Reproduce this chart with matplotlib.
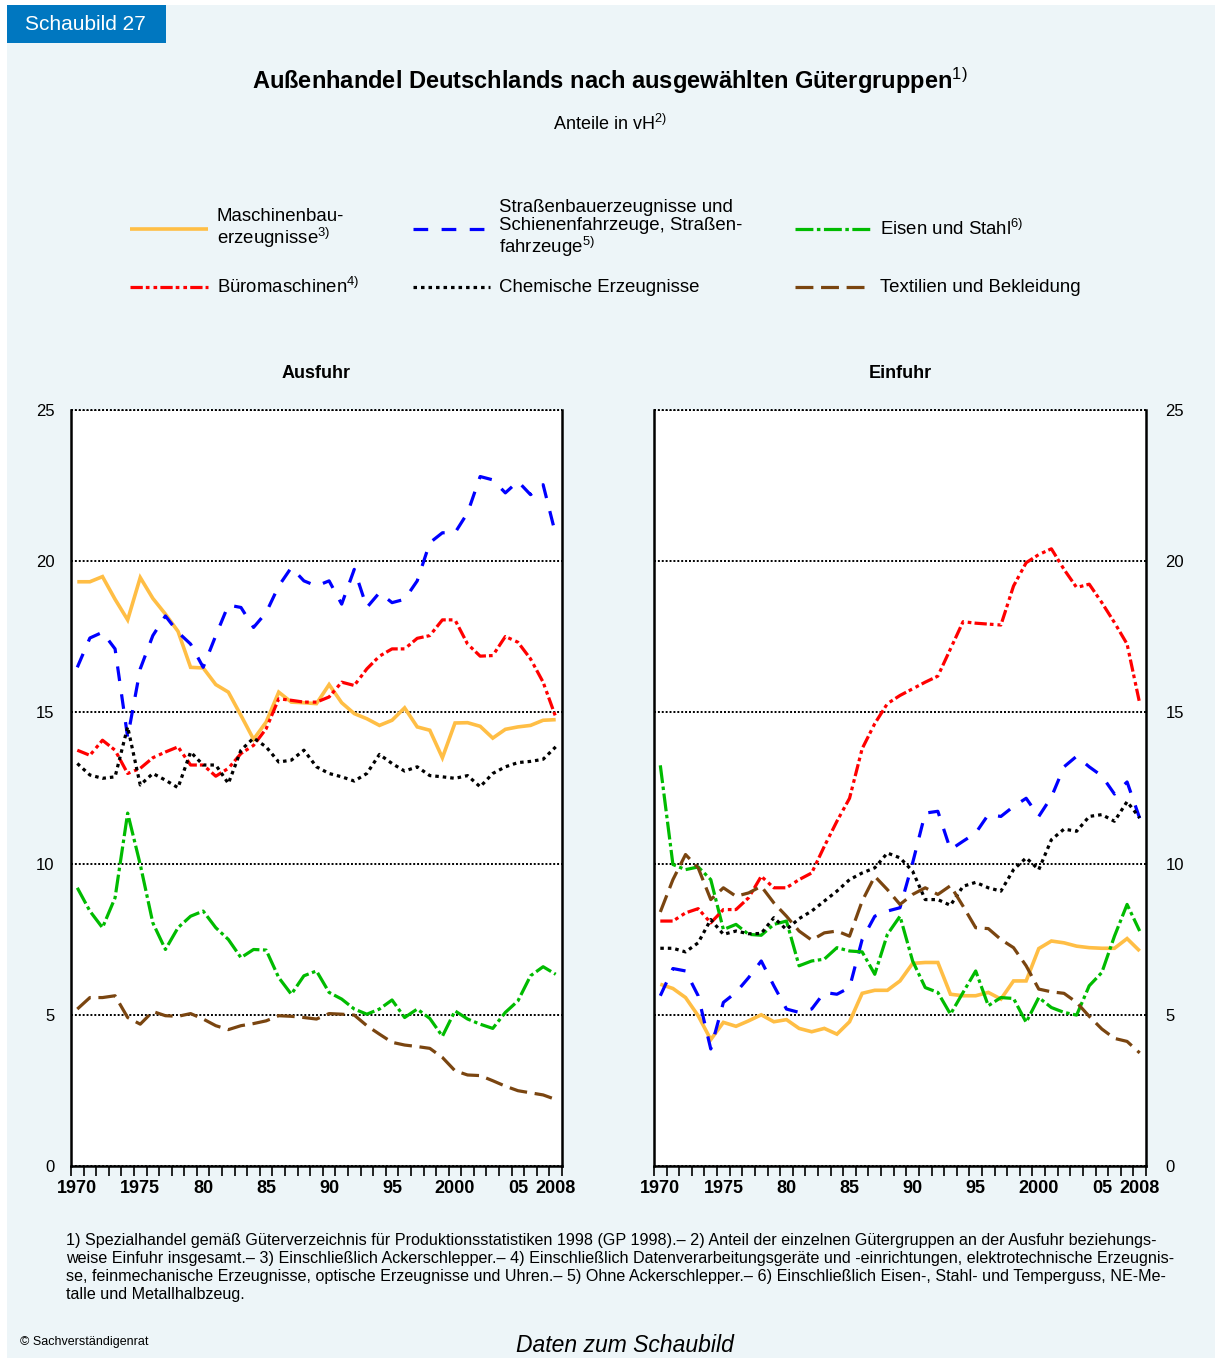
import numpy as np
import matplotlib.pyplot as plt
from matplotlib.patches import Rectangle
from matplotlib.lines import Line2D

plt.rcParams['font.family'] = ['Liberation Sans', 'DejaVu Sans']
plt.rcParams['mathtext.fontset'] = 'custom'
plt.rcParams['mathtext.rm'] = 'Liberation Sans'
plt.rcParams['mathtext.it'] = 'Liberation Sans:italic'
plt.rcParams['mathtext.bf'] = 'Liberation Sans:bold'

# --- Daten (Anteile in vH) ---
years = list(range(1970, 2009))

# Ausfuhr
aus_maschinen = [19.32, 19.32, 19.49, 18.74, 18.06, 19.46, 18.77, 18.25, 17.68, 16.49,
                 16.47, 15.92, 15.67, 14.90, 14.11, 14.68, 15.67, 15.34, 15.32, 15.29,
                 15.92, 15.32, 14.96, 14.79, 14.57, 14.74, 15.15, 14.52, 14.41, 13.50,
                 14.65, 14.66, 14.54, 14.15, 14.44, 14.52, 14.57, 14.74, 14.76]
aus_strassen = [16.49, 17.46, 17.65, 17.10, 14.18, 16.44, 17.54, 18.19, 17.65, 17.26,
                16.49, 17.54, 18.55, 18.47, 17.81, 18.30, 19.18, 19.79, 19.35, 19.18,
                19.35, 18.58, 19.73, 18.47, 18.96, 18.63, 18.74, 19.35, 20.61, 20.94,
                20.94, 21.60, 22.80, 22.69, 22.26, 22.64, 22.20, 22.53, 20.88]
aus_eisen = [9.20, 8.43, 7.88, 8.87, 11.67, 9.97, 8.04, 7.16, 7.88, 8.26,
             8.43, 7.88, 7.49, 6.89, 7.16, 7.14, 6.23, 5.68, 6.29, 6.45,
             5.74, 5.52, 5.19, 5.02, 5.19, 5.49, 4.91, 5.19, 4.88, 4.29,
             5.13, 4.86, 4.69, 4.55, 5.08, 5.46, 6.29, 6.59, 6.34]
aus_buero = [13.75, 13.58, 14.08, 13.75, 12.98, 13.15, 13.50, 13.69, 13.86, 13.26,
             13.26, 12.89, 13.15, 13.64, 13.91, 14.46, 15.45, 15.40, 15.34, 15.34,
             15.51, 16.00, 15.89, 16.44, 16.86, 17.10, 17.10, 17.45, 17.54, 18.06,
             18.06, 17.26, 16.86, 16.88, 17.51, 17.32, 16.77, 16.00, 14.85]
aus_chemie = [13.31, 12.93, 12.82, 12.87, 14.52, 12.60, 12.98, 12.76, 12.51, 13.69,
              13.26, 13.26, 12.65, 13.75, 14.15, 13.86, 13.36, 13.42, 13.75, 13.20,
              12.98, 12.87, 12.73, 12.98, 13.61, 13.31, 13.06, 13.20, 12.91, 12.87,
              12.82, 12.91, 12.54, 12.98, 13.20, 13.34, 13.38, 13.45, 13.86]
aus_textil = [5.19, 5.57, 5.57, 5.63, 4.91, 4.69, 5.11, 4.97, 4.95, 5.04,
              4.86, 4.64, 4.51, 4.64, 4.71, 4.80, 4.97, 4.95, 4.91, 4.86,
              5.04, 5.02, 4.99, 4.64, 4.36, 4.09, 4.00, 3.95, 3.89, 3.59,
              3.15, 3.01, 2.99, 2.82, 2.64, 2.49, 2.42, 2.35, 2.20]

# Einfuhr
ein_maschinen = [6.01, 5.87, 5.57, 4.97, 4.18, 4.75, 4.62, 4.80, 5.00, 4.77,
                 4.84, 4.55, 4.44, 4.55, 4.36, 4.77, 5.71, 5.81, 5.81, 6.12,
                 6.70, 6.73, 6.73, 5.68, 5.63, 5.63, 5.74, 5.52, 6.12, 6.12,
                 7.19, 7.44, 7.38, 7.27, 7.22, 7.20, 7.20, 7.52, 7.11]
ein_strassen = [5.63, 6.53, 6.45, 5.63, 3.87, 5.41, 5.74, 6.23, 6.78, 5.96,
                5.19, 5.08, 5.19, 5.74, 5.68, 5.90, 7.49, 8.26, 8.43, 8.54,
                10.02, 11.67, 11.73, 10.46, 10.74, 11.01, 11.62, 11.56, 11.89, 12.16,
                11.56, 12.20, 13.20, 13.55, 13.20, 12.90, 12.30, 12.70, 11.50]
ein_eisen = [13.25, 9.97, 9.80, 9.89, 9.47, 7.82, 7.99, 7.66, 7.63, 7.99,
             8.10, 6.62, 6.78, 6.84, 7.22, 7.11, 7.08, 6.34, 7.66, 8.26,
             6.78, 5.90, 5.74, 5.02, 5.74, 6.45, 5.30, 5.57, 5.54, 4.75,
             5.57, 5.24, 5.08, 4.99, 5.96, 6.40, 7.60, 8.65, 7.77]
ein_buero = [8.10, 8.10, 8.37, 8.51, 8.04, 8.48, 8.48, 8.87, 9.58, 9.20,
             9.20, 9.47, 9.69, 10.57, 11.40, 12.16, 13.80, 14.63, 15.29, 15.56,
             15.78, 16.00, 16.20, 17.10, 18.00, 17.95, 17.92, 17.89, 19.18, 19.95,
             20.22, 20.41, 19.73, 19.13, 19.24, 18.63, 17.97, 17.26, 15.30]
ein_chemie = [7.20, 7.20, 7.08, 7.38, 8.15, 7.66, 7.77, 7.68, 7.69, 8.21,
              7.82, 8.18, 8.43, 8.76, 9.09, 9.47, 9.69, 9.86, 10.35, 10.19,
              9.75, 8.81, 8.81, 8.62, 9.25, 9.38, 9.20, 9.09, 9.80, 10.19,
              9.80, 10.79, 11.14, 11.07, 11.56, 11.62, 11.40, 12.05, 11.51]
ein_textil = [8.40, 9.47, 10.30, 9.86, 8.81, 9.20, 8.92, 9.03, 9.25, 8.70,
              8.26, 7.77, 7.47, 7.71, 7.77, 7.60, 8.76, 9.58, 9.14, 8.65,
              8.98, 9.20, 8.98, 9.27, 8.59, 7.88, 7.85, 7.49, 7.22, 6.62,
              5.85, 5.76, 5.71, 5.41, 4.95, 4.53, 4.22, 4.12, 3.74]

x_ticks = [1970, 1975, 1980, 1985, 1990, 1995, 2000, 2005, 2008]
x_ticklabels = ['1970', '1975', '80', '85', '90', '95', '2000', '05', '2008']

# Reihenfolge der Zeichnung, Legendentexte und Linienstile
series = [
    ('maschinen', 'Maschinenbau-\nerzeugnisse$^{3)}$',
     dict(color='#FFBE45', lw=2.6, ls='-')),
    ('strassen', 'Straßenbauerzeugnisse und\nSchienenfahrzeuge, Straßen-\nfahrzeuge$^{5)}$',
     dict(color='#0000FF', lw=2.3, ls=(0, (4.6, 4.2)))),
    ('eisen', 'Eisen und Stahl$^{6)}$',
     dict(color='#00BB00', lw=2.3, ls=(0, (5.6, 1.1, 1.1, 1.1)))),
    ('buero', 'Büromaschinen$^{4)}$',
     dict(color='#FF0000', lw=2.3, ls=(0, (3.85, 0.95, 1.15, 1.25, 1.15, 1.0)))),
    ('chemie', 'Chemische Erzeugnisse',
     dict(color='#000000', lw=2.3, ls=(0, (1.1, 1.25)))),
    ('textil', 'Textilien und Bekleidung',
     dict(color='#7A4510', lw=2.3, ls=(0, (5.6, 2.4)))),
]
aus = dict(maschinen=aus_maschinen, strassen=aus_strassen, eisen=aus_eisen,
           buero=aus_buero, chemie=aus_chemie, textil=aus_textil)
ein = dict(maschinen=ein_maschinen, strassen=ein_strassen, eisen=ein_eisen,
           buero=ein_buero, chemie=ein_chemie, textil=ein_textil)

BG = '#EDF5F8'
W, H = 1215, 1358


def fx(px):
    return px / W


def fy(py):
    return 1 - py / H


fig = plt.figure(figsize=(W / 100, H / 100), dpi=100, facecolor='white')
fig.add_artist(Rectangle((fx(7), 0), 1 - fx(7), fy(5), transform=fig.transFigure,
                         facecolor=BG, edgecolor='none', zorder=-10))
# Kopf
fig.add_artist(Rectangle((fx(7), fy(43)), fx(166) - fx(7), (43 - 5) / H,
                         transform=fig.transFigure, facecolor='#0077C0',
                         edgecolor='none', zorder=-5))
fig.text(fx(25), fy(24), 'Schaubild 27', color='white', fontsize=15, va='center')
fig.text(fx(610), fy(81), r'Außenhandel Deutschlands nach ausgewählten Gütergruppen$^{1)}$',
         fontsize=17, fontweight='bold', ha='center', va='center')
fig.text(fx(610), fy(124), r'Anteile in vH$^{2)}$', fontsize=13, ha='center', va='center')

# Legende (manuell, 2 Zeilen x 3 Spalten)
leg_cols = [(130, 208, 217), (413, 490, 499), (795, 870, 880)]
leg_rows = [229, 287]
for k, (key, label, st) in enumerate(series):
    row, col = divmod(k, 3)
    x0, x1, xt = leg_cols[col]
    y = leg_rows[row]
    fig.add_artist(Line2D([fx(x0), fx(x1)], [fy(y), fy(y)], transform=fig.transFigure,
                          color=st['color'], lw=st['lw'], linestyle=st['ls'],
                          solid_capstyle='butt', dash_capstyle='butt'))
    fig.text(fx(xt), fy(y), label, fontsize=13.4, va='center', ha='left', linespacing=1.05)

# Achsen
ax1 = fig.add_axes([fx(71), fy(1166), fx(562) - fx(71), (1166 - 410) / H])
ax2 = fig.add_axes([fx(654), fy(1166), fx(1146) - fx(654), (1166 - 410) / H])

for ax, data, title in [(ax1, aus, 'Ausfuhr'), (ax2, ein, 'Einfuhr')]:
    ax.set_facecolor('white')
    for key, label, st in series:
        ax.plot(years, data[key], color=st['color'], lw=st['lw'], linestyle=st['ls'],
                solid_capstyle='butt', dash_capstyle='butt', solid_joinstyle='miter')
    ax.set_xlim(1969.5, 2008.5)
    ax.set_ylim(0, 25)
    ax.set_yticks([0, 5, 10, 15, 20, 25])
    ax.set_xticks(x_ticks)
    ax.set_xticklabels(x_ticklabels, fontweight='bold', fontsize=13)
    ax.set_xticks(np.arange(1969.5, 2009, 1), minor=True)
    ax.tick_params(axis='x', which='major', length=0, pad=10)
    ax.tick_params(axis='x', which='minor', length=7, width=1.2, direction='out')
    ax.tick_params(axis='y', length=0, pad=12, labelsize=12)
    ax.yaxis.grid(True, color='black', linestyle=(0, (1, 1)), lw=1.4)
    ax.set_axisbelow(True)
    ax.axhline(25, color='black', linestyle=(0, (1, 1)), lw=1.4, clip_on=False)
    ax.spines['top'].set_visible(False)
    for s in ['left', 'right', 'bottom']:
        ax.spines[s].set_linewidth(1.8)
    ax.text(0.5, 1.048, title, transform=ax.transAxes, ha='center', va='center',
            fontsize=13, fontweight='bold')

ax2.yaxis.tick_right()
ax2.tick_params(axis='y', labelleft=False, labelright=True, length=0, pad=14)

# Fußnoten
notes = [
    '1) Spezialhandel gemäß Güterverzeichnis für Produktionsstatistiken 1998 (GP 1998).– 2) Anteil der einzelnen Gütergruppen an der Ausfuhr beziehungs-',
    'weise Einfuhr insgesamt.– 3) Einschließlich Ackerschlepper.– 4) Einschließlich Datenverarbeitungsgeräte und -einrichtungen, elektrotechnische Erzeugnis-',
    'se, feinmechanische Erzeugnisse, optische Erzeugnisse und Uhren.– 5) Ohne Ackerschlepper.– 6) Einschließlich Eisen-, Stahl- und Temperguss, NE-Me-',
    'talle und Metallhalbzeug.',
]
for i, line in enumerate(notes):
    fig.text(fx(66), fy(1241 + 18 * i), line, fontsize=11.6, va='center', ha='left')

fig.text(fx(20), fy(1342), '© Sachverständigenrat', fontsize=9, va='center')
fig.text(fx(625), fy(1345), 'Daten zum Schaubild', fontsize=16.5, style='italic',
         ha='center', va='center')

fig.savefig('out.png', dpi=100, facecolor=fig.get_facecolor())
